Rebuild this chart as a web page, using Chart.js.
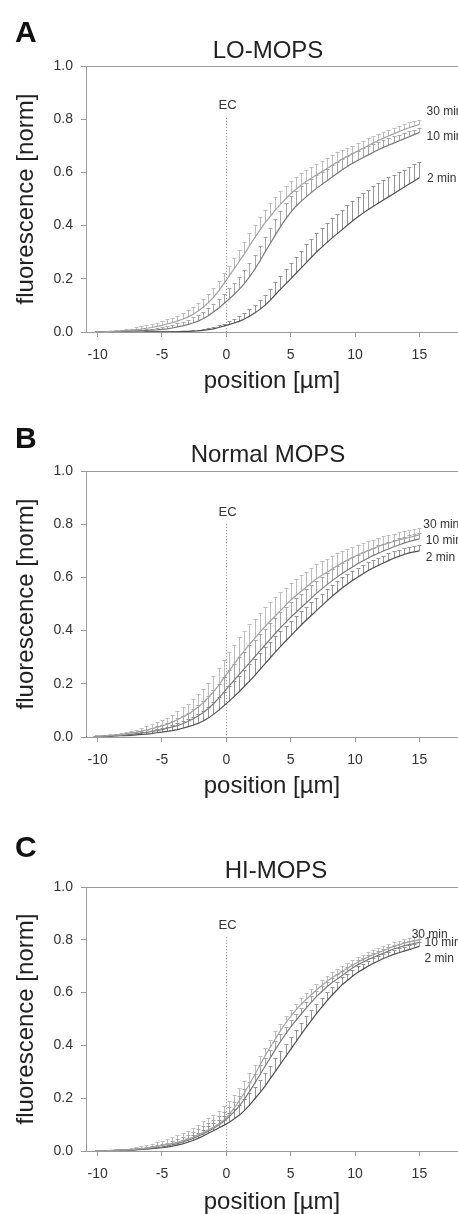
<!DOCTYPE html>
<html>
<head>
<meta charset="utf-8">
<script src="https://cdn.jsdelivr.net/npm/chart.js@4.4.1/dist/chart.umd.min.js"></script>
<style>
  html, body { margin: 0; padding: 0; background: #fff; overflow: hidden; }
  body { width: 458px; height: 1214px; position: relative; font-family: "Liberation Sans", Arial, sans-serif; }
  .panel { position: absolute; left: 0; width: 458px; height: 400px; }
  .letter { position: absolute; left: 15px; font-weight: bold; font-size: 30px; line-height: 30px; color: #111; }
  .title { position: absolute; font-size: 24px; line-height: 24px; color: #222; white-space: nowrap; transform: translateX(-50%); }
</style>
</head>
<body>
<div class="panel" style="top:0px"><canvas id="chart-lo" width="458" height="400"></canvas></div>
<div class="panel" style="top:405px"><canvas id="chart-normal" width="458" height="400"></canvas></div>
<div class="panel" style="top:821px"><canvas id="chart-hi" width="458" height="400"></canvas></div>

<div class="letter" style="top:17px">A</div>
<div class="title" style="top:38px; left:268px">LO-MOPS</div>
<div class="letter" style="top:423px">B</div>
<div class="title" style="top:442px; left:268px">Normal MOPS</div>
<div class="letter" style="top:832px">C</div>
<div class="title" style="top:858px; left:276px">HI-MOPS</div>

<script>
'use strict';

// position along the profile, µm (one sample every 0.4 µm)
const positions = [
  -10.2, -9.8, -9.4, -9.0, -8.6, -8.2, -7.8, -7.4,
  -7.0, -6.6, -6.2, -5.8, -5.4, -5.0, -4.6, -4.2,
  -3.8, -3.4, -3.0, -2.6, -2.2, -1.8, -1.4, -1.0,
  -0.6, -0.2, 0.2, 0.6, 1.0, 1.4, 1.8, 2.2,
  2.6, 3.0, 3.4, 3.8, 4.2, 4.6, 5.0, 5.4,
  5.8, 6.2, 6.6, 7.0, 7.4, 7.8, 8.2, 8.6,
  9.0, 9.4, 9.8, 10.2, 10.6, 11.0, 11.4, 11.8,
  12.2, 12.6, 13.0, 13.4, 13.8, 14.2, 14.6, 15.0
];
const xTicks = [-10, -5, 0, 5, 10, 15];
const yTicks = [0, 0.2, 0.4, 0.6, 0.8, 1.0];
const seriesLabels = ['30 min', '10 min', '2 min'];

// A: LO-MOPS
const loMean30 = [
  0.000, 0.000, 0.001, 0.002, 0.003, 0.004, 0.006, 0.007,
  0.009, 0.011, 0.014, 0.017, 0.021, 0.025, 0.030, 0.035,
  0.041, 0.048, 0.056, 0.066, 0.079, 0.093, 0.110, 0.130,
  0.154, 0.181, 0.209, 0.237, 0.265, 0.293, 0.324, 0.354,
  0.382, 0.410, 0.434, 0.458, 0.480, 0.500, 0.520, 0.536,
  0.552, 0.566, 0.578, 0.590, 0.602, 0.614, 0.626, 0.638,
  0.650, 0.660, 0.670, 0.680, 0.690, 0.700, 0.710, 0.720,
  0.729, 0.737, 0.745, 0.753, 0.761, 0.768, 0.774, 0.780];
const loMean10 = [
  0.000, 0.000, 0.000, 0.001, 0.001, 0.002, 0.002, 0.003,
  0.004, 0.005, 0.006, 0.007, 0.008, 0.010, 0.012, 0.015,
  0.019, 0.023, 0.028, 0.034, 0.041, 0.050, 0.061, 0.075,
  0.089, 0.106, 0.123, 0.141, 0.160, 0.182, 0.207, 0.235,
  0.266, 0.300, 0.332, 0.364, 0.395, 0.424, 0.450, 0.472,
  0.491, 0.508, 0.524, 0.540, 0.554, 0.568, 0.582, 0.596,
  0.610, 0.622, 0.634, 0.645, 0.655, 0.665, 0.675, 0.685,
  0.694, 0.702, 0.710, 0.718, 0.726, 0.734, 0.742, 0.750];
const loMean2 = [
  0.000, 0.000, 0.000, 0.000, 0.000, 0.000, 0.000, 0.000,
  0.000, 0.000, 0.001, 0.001, 0.001, 0.001, 0.001, 0.001,
  0.001, 0.002, 0.002, 0.003, 0.004, 0.006, 0.009, 0.012,
  0.017, 0.022, 0.028, 0.034, 0.040, 0.049, 0.059, 0.071,
  0.085, 0.100, 0.119, 0.140, 0.160, 0.180, 0.200, 0.220,
  0.240, 0.260, 0.280, 0.300, 0.318, 0.336, 0.353, 0.369,
  0.385, 0.401, 0.417, 0.432, 0.446, 0.460, 0.472, 0.484,
  0.496, 0.508, 0.520, 0.532, 0.544, 0.556, 0.568, 0.580];
const loSd30 = [
  0.000, 0.000, 0.001, 0.002, 0.003, 0.004, 0.005, 0.006,
  0.008, 0.010, 0.011, 0.013, 0.014, 0.016, 0.018, 0.019,
  0.021, 0.023, 0.025, 0.027, 0.029, 0.031, 0.033, 0.035,
  0.037, 0.039, 0.041, 0.043, 0.045, 0.047, 0.049, 0.050,
  0.050, 0.050, 0.050, 0.050, 0.050, 0.049, 0.048, 0.046,
  0.045, 0.044, 0.043, 0.042, 0.041, 0.040, 0.039, 0.037,
  0.035, 0.033, 0.031, 0.030, 0.029, 0.028, 0.026, 0.025,
  0.024, 0.023, 0.022, 0.021, 0.020, 0.020, 0.019, 0.018];
const loSd10 = [
  0.000, 0.000, 0.001, 0.001, 0.001, 0.002, 0.002, 0.003,
  0.003, 0.004, 0.005, 0.006, 0.007, 0.008, 0.010, 0.011,
  0.013, 0.016, 0.018, 0.021, 0.024, 0.026, 0.029, 0.032,
  0.035, 0.038, 0.042, 0.045, 0.048, 0.051, 0.054, 0.056,
  0.057, 0.058, 0.059, 0.060, 0.060, 0.060, 0.060, 0.058,
  0.056, 0.054, 0.052, 0.050, 0.048, 0.046, 0.044, 0.042,
  0.040, 0.039, 0.038, 0.037, 0.035, 0.033, 0.032, 0.031,
  0.029, 0.027, 0.025, 0.023, 0.021, 0.020, 0.019, 0.018];
const loSd2 = [
  0.000, 0.000, 0.000, 0.000, 0.000, 0.000, 0.000, 0.001,
  0.001, 0.001, 0.001, 0.001, 0.001, 0.001, 0.001, 0.002,
  0.002, 0.003, 0.003, 0.003, 0.004, 0.004, 0.005, 0.006,
  0.008, 0.009, 0.012, 0.016, 0.020, 0.024, 0.028, 0.032,
  0.036, 0.040, 0.044, 0.048, 0.052, 0.056, 0.060, 0.063,
  0.066, 0.069, 0.070, 0.072, 0.073, 0.074, 0.075, 0.075,
  0.075, 0.075, 0.075, 0.075, 0.075, 0.075, 0.075, 0.075,
  0.075, 0.073, 0.070, 0.068, 0.066, 0.064, 0.062, 0.060];

// B: Normal MOPS
const normMean30 = [
  0.003, 0.003, 0.004, 0.006, 0.008, 0.009, 0.012, 0.015,
  0.018, 0.022, 0.026, 0.031, 0.036, 0.042, 0.048, 0.056,
  0.065, 0.075, 0.085, 0.098, 0.112, 0.129, 0.148, 0.170,
  0.194, 0.221, 0.248, 0.274, 0.300, 0.324, 0.348, 0.371,
  0.393, 0.415, 0.435, 0.455, 0.475, 0.495, 0.515, 0.531,
  0.547, 0.563, 0.579, 0.595, 0.607, 0.619, 0.631, 0.643,
  0.655, 0.665, 0.675, 0.684, 0.692, 0.700, 0.708, 0.716,
  0.723, 0.729, 0.735, 0.741, 0.746, 0.750, 0.755, 0.760];
const normMean10 = [
  0.002, 0.002, 0.003, 0.004, 0.005, 0.006, 0.008, 0.010,
  0.012, 0.014, 0.017, 0.021, 0.024, 0.028, 0.033, 0.038,
  0.043, 0.050, 0.058, 0.068, 0.079, 0.092, 0.107, 0.125,
  0.145, 0.168, 0.191, 0.213, 0.235, 0.257, 0.279, 0.301,
  0.323, 0.345, 0.367, 0.389, 0.410, 0.430, 0.450, 0.468,
  0.486, 0.504, 0.522, 0.540, 0.556, 0.572, 0.587, 0.601,
  0.615, 0.627, 0.639, 0.651, 0.662, 0.672, 0.682, 0.691,
  0.699, 0.707, 0.715, 0.722, 0.729, 0.735, 0.740, 0.745];
const normMean2 = [
  0.002, 0.002, 0.002, 0.003, 0.004, 0.005, 0.005, 0.006,
  0.008, 0.010, 0.011, 0.013, 0.016, 0.018, 0.021, 0.024,
  0.028, 0.033, 0.038, 0.044, 0.051, 0.060, 0.071, 0.085,
  0.100, 0.117, 0.134, 0.152, 0.170, 0.190, 0.210, 0.231,
  0.253, 0.275, 0.297, 0.319, 0.340, 0.360, 0.380, 0.400,
  0.420, 0.439, 0.457, 0.475, 0.493, 0.511, 0.528, 0.544,
  0.560, 0.574, 0.588, 0.601, 0.613, 0.625, 0.635, 0.645,
  0.654, 0.663, 0.672, 0.679, 0.686, 0.692, 0.696, 0.700];
const normSd30 = [
  0.002, 0.002, 0.003, 0.004, 0.005, 0.006, 0.007, 0.008,
  0.010, 0.012, 0.014, 0.016, 0.019, 0.022, 0.025, 0.028,
  0.032, 0.036, 0.040, 0.044, 0.048, 0.052, 0.056, 0.060,
  0.064, 0.068, 0.071, 0.073, 0.075, 0.075, 0.075, 0.074,
  0.073, 0.072, 0.071, 0.070, 0.069, 0.067, 0.065, 0.063,
  0.061, 0.059, 0.057, 0.055, 0.053, 0.051, 0.049, 0.047,
  0.045, 0.043, 0.041, 0.039, 0.037, 0.035, 0.034, 0.032,
  0.032, 0.031, 0.030, 0.029, 0.028, 0.027, 0.026, 0.025];
const normSd10 = [
  0.002, 0.002, 0.003, 0.003, 0.004, 0.005, 0.006, 0.007,
  0.008, 0.010, 0.011, 0.013, 0.016, 0.018, 0.021, 0.024,
  0.027, 0.030, 0.033, 0.037, 0.040, 0.044, 0.047, 0.051,
  0.055, 0.058, 0.061, 0.062, 0.064, 0.064, 0.065, 0.064,
  0.063, 0.062, 0.061, 0.060, 0.059, 0.058, 0.056, 0.054,
  0.053, 0.051, 0.050, 0.048, 0.046, 0.045, 0.043, 0.042,
  0.040, 0.038, 0.037, 0.035, 0.034, 0.032, 0.030, 0.029,
  0.028, 0.027, 0.026, 0.025, 0.024, 0.024, 0.023, 0.022];
const normSd2 = [
  0.001, 0.001, 0.002, 0.002, 0.003, 0.004, 0.004, 0.005,
  0.006, 0.008, 0.009, 0.011, 0.013, 0.015, 0.017, 0.020,
  0.023, 0.026, 0.029, 0.032, 0.035, 0.039, 0.042, 0.045,
  0.049, 0.053, 0.056, 0.058, 0.060, 0.061, 0.063, 0.063,
  0.062, 0.062, 0.061, 0.060, 0.059, 0.058, 0.056, 0.054,
  0.053, 0.051, 0.050, 0.048, 0.046, 0.045, 0.043, 0.042,
  0.040, 0.038, 0.037, 0.035, 0.034, 0.032, 0.030, 0.029,
  0.028, 0.027, 0.026, 0.025, 0.024, 0.024, 0.023, 0.022];

// C: HI-MOPS
const hiMean30 = [
  0.000, 0.000, 0.001, 0.002, 0.003, 0.004, 0.004, 0.005,
  0.007, 0.009, 0.011, 0.014, 0.017, 0.020, 0.024, 0.028,
  0.033, 0.039, 0.045, 0.052, 0.061, 0.070, 0.080, 0.090,
  0.102, 0.117, 0.137, 0.162, 0.190, 0.220, 0.253, 0.288,
  0.324, 0.360, 0.392, 0.424, 0.455, 0.484, 0.510, 0.534,
  0.555, 0.574, 0.592, 0.610, 0.626, 0.642, 0.656, 0.668,
  0.680, 0.692, 0.704, 0.715, 0.725, 0.735, 0.743, 0.751,
  0.759, 0.767, 0.775, 0.781, 0.787, 0.792, 0.796, 0.800];
const hiMean10 = [
  0.000, 0.000, 0.001, 0.001, 0.002, 0.003, 0.003, 0.004,
  0.006, 0.008, 0.009, 0.011, 0.013, 0.015, 0.019, 0.023,
  0.028, 0.034, 0.040, 0.048, 0.056, 0.065, 0.075, 0.085,
  0.098, 0.112, 0.129, 0.148, 0.170, 0.196, 0.225, 0.256,
  0.288, 0.320, 0.352, 0.384, 0.414, 0.443, 0.470, 0.494,
  0.518, 0.541, 0.563, 0.585, 0.603, 0.621, 0.637, 0.651,
  0.665, 0.679, 0.693, 0.705, 0.715, 0.725, 0.733, 0.741,
  0.749, 0.757, 0.765, 0.771, 0.777, 0.782, 0.786, 0.790];
const hiMean2 = [
  0.000, 0.000, 0.000, 0.001, 0.001, 0.002, 0.002, 0.003,
  0.004, 0.006, 0.007, 0.009, 0.011, 0.013, 0.015, 0.018,
  0.022, 0.027, 0.033, 0.040, 0.048, 0.057, 0.067, 0.077,
  0.087, 0.097, 0.108, 0.121, 0.135, 0.153, 0.174, 0.197,
  0.220, 0.245, 0.273, 0.301, 0.329, 0.357, 0.385, 0.413,
  0.441, 0.468, 0.494, 0.520, 0.544, 0.568, 0.590, 0.610,
  0.630, 0.646, 0.662, 0.676, 0.688, 0.700, 0.710, 0.720,
  0.729, 0.737, 0.745, 0.751, 0.757, 0.763, 0.769, 0.775];
const hiSd30 = [
  0.000, 0.000, 0.001, 0.002, 0.003, 0.004, 0.005, 0.006,
  0.008, 0.010, 0.011, 0.013, 0.016, 0.018, 0.021, 0.024,
  0.026, 0.029, 0.032, 0.035, 0.038, 0.042, 0.045, 0.048,
  0.051, 0.054, 0.054, 0.052, 0.050, 0.046, 0.042, 0.038,
  0.035, 0.032, 0.030, 0.029, 0.027, 0.026, 0.025, 0.024,
  0.023, 0.023, 0.022, 0.022, 0.022, 0.021, 0.021, 0.020,
  0.020, 0.020, 0.019, 0.019, 0.018, 0.018, 0.018, 0.017,
  0.017, 0.017, 0.016, 0.016, 0.016, 0.016, 0.015, 0.015];
const hiSd10 = [
  0.000, 0.000, 0.001, 0.001, 0.001, 0.002, 0.002, 0.003,
  0.004, 0.005, 0.006, 0.008, 0.009, 0.011, 0.013, 0.015,
  0.017, 0.020, 0.022, 0.024, 0.027, 0.029, 0.032, 0.034,
  0.036, 0.037, 0.038, 0.039, 0.040, 0.039, 0.038, 0.037,
  0.036, 0.034, 0.032, 0.031, 0.029, 0.028, 0.026, 0.025,
  0.024, 0.024, 0.023, 0.022, 0.021, 0.020, 0.020, 0.019,
  0.018, 0.018, 0.017, 0.017, 0.016, 0.016, 0.016, 0.015,
  0.015, 0.015, 0.015, 0.014, 0.014, 0.014, 0.013, 0.013];
const hiSd2 = [
  0.000, 0.000, 0.001, 0.001, 0.001, 0.002, 0.002, 0.003,
  0.003, 0.004, 0.005, 0.006, 0.007, 0.008, 0.010, 0.011,
  0.013, 0.015, 0.017, 0.019, 0.022, 0.024, 0.027, 0.029,
  0.031, 0.034, 0.036, 0.039, 0.041, 0.043, 0.045, 0.047,
  0.048, 0.049, 0.049, 0.050, 0.050, 0.049, 0.048, 0.046,
  0.045, 0.043, 0.040, 0.038, 0.036, 0.033, 0.031, 0.030,
  0.028, 0.026, 0.025, 0.024, 0.022, 0.021, 0.020, 0.019,
  0.019, 0.018, 0.017, 0.017, 0.016, 0.016, 0.015, 0.015];

// where the curve names sit at the right edge (x in µm, y in norm units)
const loNoteX = [15.55, 15.55, 15.6];
const loNoteY = [0.827, 0.734, 0.575];
const normNoteX = [15.3, 15.5, 15.5];
const normNoteY = [0.80, 0.737, 0.673];
const hiNoteX = [14.4, 15.4, 15.4];
const hiNoteY = [0.818, 0.79, 0.73];

const lineColors = ['#a3a3a3', '#7a7a7a', '#505050'];
const barColors = ['#bdbdbd', '#a6a6a6', '#959595'];

Chart.defaults.font.family = '"Liberation Sans", Arial, sans-serif';

const decorPlugin = {
  id: 'decor',
  beforeDatasetsDraw(chart, args, opts) {
    const ctx = chart.ctx;
    const area = chart.chartArea;
    const x = chart.scales.x;
    const y = chart.scales.y;

    ctx.save();
    // frame line on top
    ctx.strokeStyle = '#9a9a9a';
    ctx.lineWidth = 1;
    ctx.beginPath();
    ctx.moveTo(area.left, Math.round(area.top) + 0.5);
    ctx.lineTo(area.right, Math.round(area.top) + 0.5);
    ctx.stroke();

    // EC marker
    const ecX = Math.round(x.getPixelForValue(0)) + 0.5;
    ctx.setLineDash([1, 2]);
    ctx.strokeStyle = '#8a8a8a';
    ctx.beginPath();
    ctx.moveTo(ecX, y.getPixelForValue(opts.ecTop));
    ctx.lineTo(ecX, y.getPixelForValue(0));
    ctx.stroke();
    ctx.setLineDash([]);
    ctx.fillStyle = '#333';
    ctx.font = '13px "Liberation Sans", Arial, sans-serif';
    ctx.textAlign = 'center';
    ctx.textBaseline = 'middle';
    ctx.fillText('EC', ecX + 1, y.getPixelForValue(opts.ecTop + 0.045));

    // one-sided error bars with caps
    chart.data.datasets.forEach(function (ds) {
      ctx.strokeStyle = ds.barColor;
      ctx.beginPath();
      ds.data.forEach(function (pt, i) {
        const sd = ds.sd[i];
        if (sd <= 0) return;
        const px = Math.round(x.getPixelForValue(pt.x)) + 0.5;
        const y0 = y.getPixelForValue(pt.y);
        const y1 = Math.round(y.getPixelForValue(pt.y + sd)) + 0.5;
        ctx.moveTo(px, y0);
        ctx.lineTo(px, y1);
        ctx.moveTo(px - 2, y1);
        ctx.lineTo(px + 2, y1);
      });
      ctx.stroke();
    });
    ctx.restore();
  },
  afterDatasetsDraw(chart, args, opts) {
    const ctx = chart.ctx;
    const x = chart.scales.x;
    const y = chart.scales.y;
    ctx.save();
    ctx.fillStyle = '#333';
    ctx.font = '12px "Liberation Sans", Arial, sans-serif';
    ctx.textAlign = 'left';
    ctx.textBaseline = 'middle';
    seriesLabels.forEach(function (label, i) {
      ctx.fillText(label, x.getPixelForValue(opts.noteX[i]), y.getPixelForValue(opts.noteY[i]));
    });
    ctx.restore();
  },
};

function makePanel(canvasId, means, sds, noteX, noteY, ecTop, xAxisHeight) {
  means.concat(sds).forEach(function (arr) {
    if (arr.length !== positions.length) {
      throw new Error(canvasId + ': array of length ' + arr.length + ', expected ' + positions.length);
    }
  });

  const datasets = means.map(function (mean, k) {
    return {
      label: seriesLabels[k],
      data: positions.map(function (p, i) { return { x: p, y: mean[i] }; }),
      sd: sds[k],
      borderColor: lineColors[k],
      barColor: barColors[k],
      borderWidth: 1.2,
      pointRadius: 0,
      tension: 0,
      fill: false,
    };
  });

  return new Chart(document.getElementById(canvasId), {
    type: 'line',
    data: { datasets: datasets },
    plugins: [decorPlugin],
    options: {
      responsive: false,
      animation: false,
      layout: { padding: { top: 66, left: 0, right: 0, bottom: 0 }, autoPadding: false },
      plugins: {
        legend: { display: false },
        tooltip: { enabled: false },
        decor: { noteX: noteX, noteY: noteY, ecTop: ecTop },
      },
      scales: {
        x: {
          type: 'linear',
          min: -10.9,
          max: 18,
          border: { display: true, color: '#9a9a9a', width: 1 },
          grid: { drawOnChartArea: false, drawTicks: true, tickLength: 5, color: '#9a9a9a' },
          ticks: { color: '#333', font: { size: 14 }, padding: 10, maxRotation: 0 },
          afterBuildTicks: function (scale) {
            scale.ticks = xTicks.map(function (v) { return { value: v }; });
          },
          afterFit: function (scale) { scale.height = xAxisHeight; },
          title: {
            display: true,
            text: 'position [µm]',
            color: '#222',
            font: { size: 24 },
            padding: { top: 0, bottom: 4 },
          },
        },
        y: {
          type: 'linear',
          min: 0,
          max: 1,
          border: { display: true, color: '#9a9a9a', width: 1 },
          grid: { drawOnChartArea: false, drawTicks: true, tickLength: 5, color: '#9a9a9a' },
          ticks: {
            color: '#333',
            font: { size: 14 },
            padding: 8,
            callback: function (v) { return Number(v).toFixed(1); },
          },
          afterBuildTicks: function (scale) {
            scale.ticks = yTicks.map(function (v) { return { value: v }; });
          },
          afterFit: function (scale) { scale.width = 86; },
          title: {
            display: true,
            text: 'fluorescence [norm]',
            color: '#222',
            font: { size: 24 },
            padding: { top: 12, bottom: 0 },
          },
        },
      },
    },
  });
}

makePanel('chart-lo', [loMean30, loMean10, loMean2], [loSd30, loSd10, loSd2], loNoteX, loNoteY, 0.805, 68);
makePanel('chart-normal', [normMean30, normMean10, normMean2], [normSd30, normSd10, normSd2], normNoteX, normNoteY, 0.80, 68);
makePanel('chart-hi', [hiMean30, hiMean10, hiMean2], [hiSd30, hiSd10, hiSd2], hiNoteX, hiNoteY, 0.81, 70);
</script>
</body>
</html>
